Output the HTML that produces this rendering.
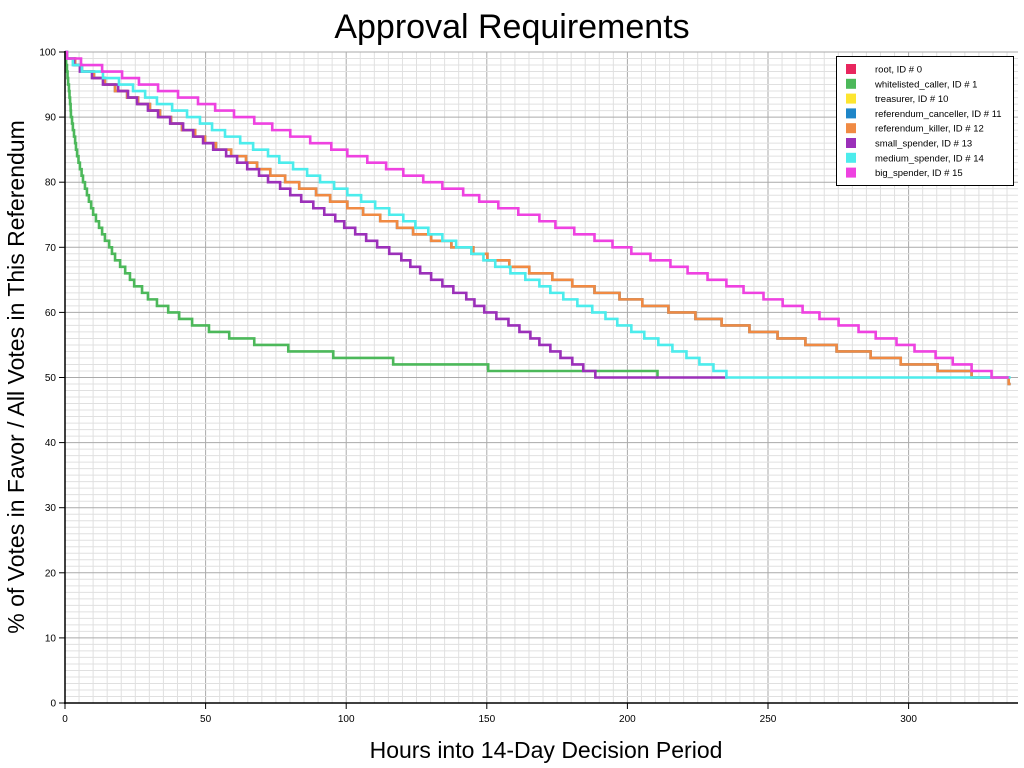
<!DOCTYPE html>
<html><head><meta charset="utf-8"><style>
html,body{margin:0;padding:0;background:#fff;width:1024px;height:768px;overflow:hidden}
svg{display:block;font-family:"Liberation Sans",Arial,sans-serif}
</style></head><body>
<svg id="chart" width="1024" height="768" viewBox="0 0 1024 768">
<text x="512" y="38" text-anchor="middle" font-size="34">Approval Requirements</text>
<text x="546" y="758" text-anchor="middle" font-size="23">Hours into 14-Day Decision Period</text>
<text transform="translate(24,377) rotate(-90)" text-anchor="middle" font-size="23">% of Votes in Favor / All Votes in This Referendum</text>
<g id="grid"></g>
<g id="series"></g>
<g id="axes"></g>
<g id="legend"></g>
</svg>
<script>
const xTicks = [0, 50, 100, 150, 200, 250, 300];
const yTicks = [0, 10, 20, 30, 40, 50, 60, 70, 80, 90, 100];
const seriesNames = ["root, ID # 0","whitelisted_caller, ID # 1","treasurer, ID # 10","referendum_canceller, ID # 11","referendum_killer, ID # 12","small_spender, ID # 13","medium_spender, ID # 14","big_spender, ID # 15"];
const seriesColors = ["#e8265e","#4cb85a","#fde52f","#1f86c8","#f08a43","#9b30b9","#4cecec","#ee42e0"];
// each value drops by 1 (starting at 100) at these hours
const greenDrops = [0.2,0.4,0.7,0.9,1.1,1.4,1.6,1.8,2.0,2.1,2.5,2.8,3.2,3.6,3.9,4.3,4.8,5.3,5.9,6.4,7.1,7.8,8.5,9.3,10.0,11.0,12.1,13.2,14.2,15.7,16.7,17.8,19.6,21.4,23.1,24.6,27.4,29.5,32.7,36.7,40.6,45.2,51.2,58.4,67.3,79.4,95.4,116.7,150.5,210.7];
const greenEnd = 211.0;
const orangeDrops = [0.7,3.6,6.0,10.3,14.2,17.8,22.1,26.0,30.2,33.8,37.7,41.6,46.3,49.8,53.7,59.1,64.4,68.3,73.0,78.3,83.3,89.3,94.3,100.4,106.0,112.1,118.1,123.8,130.2,137.4,145.2,150.2,158.0,165.1,173.3,180.4,188.3,197.2,205.3,214.6,224.2,233.5,243.4,253.4,263.3,274.4,286.5,297.2,310.3,322.4,335.6];
const orangeEnd = 336.3;
const purpleDrops = [0.7,3.2,5.3,9.6,13.5,18.9,22.4,25.6,29.5,33.1,37.4,42.0,45.6,49.1,52.7,57.3,61.2,64.8,69.0,72.2,76.5,80.1,84.0,88.3,92.2,96.1,99.3,103.2,107.1,111.0,115.3,119.6,122.8,126.3,130.2,134.2,138.1,142.7,145.6,149.1,153.4,157.7,161.6,165.5,168.7,172.6,176.2,180.4,184.3,188.6];
const purpleEnd = 235.6;
const cyanDrops = [0.7,2.8,6.0,13.5,19.2,24.2,28.5,32.7,38.1,43.4,48.0,52.3,56.9,62.3,66.9,72.2,76.2,81.1,86.1,90.7,95.7,100.4,105.3,110.3,115.3,120.3,124.6,129.2,134.2,139.1,144.5,148.8,153.0,158.4,163.7,168.7,172.6,177.2,182.2,187.5,192.2,196.4,201.4,206.0,211.0,216.0,221.0,225.6,230.6,235.2];
const cyanEnd = 336.3;
const pinkDrops = [0.7,5.7,13.2,20.3,26.3,33.1,40.2,47.3,53.4,60.1,67.3,73.7,80.1,87.2,94.7,100.4,107.5,114.2,120.3,127.4,134.2,141.6,147.3,154.1,161.2,168.7,174.4,181.1,188.3,194.7,201.4,208.2,215.3,221.4,228.5,235.2,241.3,248.4,255.2,262.3,268.3,275.1,282.2,288.3,295.7,302.1,309.6,315.7,322.4,329.5];
const pinkEnd = 335.6;
const startValue = 100;

const X0=65, X1=1018, Y0=703, Y1=52, XMAX=(X1-X0)/2.812;
const sx = h => X0 + h*2.812;
const sy = v => Y0 - v*(Y0-Y1)/100;
const NS="http://www.w3.org/2000/svg";
function mk(tag, attrs, parent){const e=document.createElementNS(NS,tag);for(const k in attrs)e.setAttribute(k,attrs[k]);parent.appendChild(e);return e;}

const grid=document.getElementById('grid');
for(let h=0;h<=XMAX;h+=5){
  const major=h%50===0;
  const l=mk('line',{x1:sx(h),x2:sx(h),y1:Y1,y2:Y0,stroke:major?'#aaa':'#e0e0e0','stroke-width':1},grid);
  
  
}
for(let v=0;v<=100;v+=1){
  const major=v%10===0;
  const l=mk('line',{x1:X0,x2:X1,y1:sy(v),y2:sy(v),stroke:major?'#aaa':'#e0e0e0','stroke-width':1},grid);
  
  
}

function stepPath(drops,end){
  let v=startValue, d=`M${sx(0)},${sy(v)}`;
  for(const h of drops){d+=`H${sx(h)}`; v-=1; d+=`V${sy(v)}`;}
  d+=`H${sx(end)}`;
  return d;
}
const ser=document.getElementById('series');
const drawList=[[greenDrops,greenEnd,1,'whitelisted-caller-line'],[orangeDrops,orangeEnd,3,'referendum-canceller-line'],[orangeDrops,orangeEnd,4,'referendum-killer-line'],[purpleDrops,purpleEnd,5,'small-spender-line'],[cyanDrops,cyanEnd,6,'medium-spender-line'],[pinkDrops,pinkEnd,7,'big-spender-line']];
for(const [dr,end,ci,name] of drawList){
  const p=mk('path',{d:stepPath(dr,end),fill:'none',stroke:seriesColors[ci],'stroke-width':2.6,'stroke-linejoin':'miter'},ser);
  
  
}

const ax=document.getElementById('axes');
const ya=mk('line',{x1:X0,x2:X0,y1:Y1-1,y2:Y0+1,stroke:'#000','stroke-width':1.5},ax);


const xa=mk('line',{x1:X0-1,x2:X1,y1:Y0,y2:Y0,stroke:'#000','stroke-width':1.5},ax);


for(const v of yTicks){
  const t=mk('line',{x1:X0-6,x2:X0,y1:sy(v),y2:sy(v),stroke:'#000','stroke-width':1},ax);
  
  
  const tx=mk('text',{x:X0-9,y:sy(v)+3.5,'text-anchor':'end','font-size':10},ax);
  tx.textContent=v;
  
  
}
for(const h of xTicks){
  const t=mk('line',{x1:sx(h),x2:sx(h),y1:Y0,y2:Y0+6,stroke:'#000','stroke-width':1},ax);
  
  
  const tx=mk('text',{x:sx(h),y:Y0+19,'text-anchor':'middle','font-size':10},ax);
  tx.textContent=h;
  
  
}

const lg=document.getElementById('legend');
const box=mk('rect',{x:836.5,y:56.5,width:177,height:129,fill:'#fff',stroke:'#000','stroke-width':1},lg);


seriesNames.forEach((n,i)=>{
  const y=69+i*14.8;
  const r=mk('rect',{x:846,y:y-5,width:10,height:10,fill:seriesColors[i]},lg);
  
  
  const t=mk('text',{x:875,y:y+3.5,'font-size':9.5},lg);
  t.textContent=n;
  
  
});
</script>
</body></html>
